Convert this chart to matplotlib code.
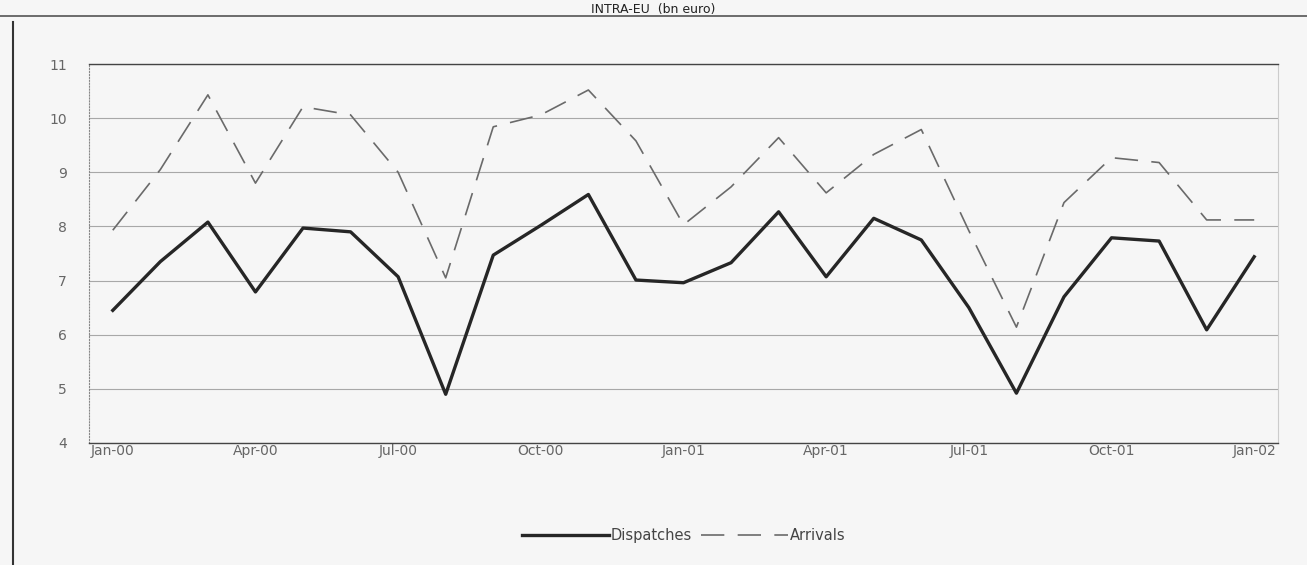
import numpy as np
import matplotlib.pyplot as plt

# monthly values, Jan-00 .. Jan-02 (bn euro)
months = ["Jan-00", "Feb-00", "Mar-00", "Apr-00", "May-00", "Jun-00", "Jul-00", "Aug-00",
          "Sep-00", "Oct-00", "Nov-00", "Dec-00", "Jan-01", "Feb-01", "Mar-01", "Apr-01",
          "May-01", "Jun-01", "Jul-01", "Aug-01", "Sep-01", "Oct-01", "Nov-01", "Dec-01",
          "Jan-02"]
dispatches = [6.45, 7.35, 8.08, 6.79, 7.97, 7.90, 7.07, 4.90, 7.47, 8.02, 8.59, 7.01,
              6.96, 7.33, 8.27, 7.07, 8.15, 7.75, 6.50, 4.92, 6.70, 7.79, 7.73, 6.09, 7.44]
arrivals = [7.93, 9.05, 10.43, 8.80, 10.21, 10.06, 9.00, 7.05, 9.84, 10.06, 10.52, 9.58,
            8.03, 8.73, 9.64, 8.62, 9.33, 9.79, 7.92, 6.14, 8.44, 9.27, 9.18, 8.12, 8.12]
tick_labels = ["Jan-00", "Apr-00", "Jul-00", "Oct-00", "Jan-01", "Apr-01", "Jul-01",
               "Oct-01", "Jan-02"]

bg = "#f6f6f6"
fig = plt.figure(figsize=(13.07, 5.65), dpi=100, facecolor=bg)
ax = fig.add_axes([89 / 1307, 1 - 443 / 565, (1278 - 89) / 1307, (443 - 64) / 565])
ax.set_facecolor(bg)

x = np.arange(len(months))
ax.plot(x, dispatches, color="#262626", lw=2.4, label="Dispatches")
ax.plot(x, arrivals, color="#6a6a6a", lw=1.2, dashes=(14, 8), label="Arrivals")

ax.set_xlim(-0.5, 24.5)
ax.set_ylim(4, 11)
ax.set_yticks(range(4, 12))
ax.set_xticks([months.index(m) for m in tick_labels])
ax.set_xticklabels(tick_labels)
ax.grid(axis="y", color="#a8a8a8", lw=0.8)
ax.set_axisbelow(True)
ax.tick_params(length=0, labelsize=10, colors="#666666")
ax.tick_params(axis="x", pad=1)
ax.tick_params(axis="y", pad=16)
for s in ["top", "bottom"]:
    ax.spines[s].set_color("#444444")
    ax.spines[s].set_linewidth(1.0)
ax.spines["left"].set_color("#888888")
ax.spines["left"].set_linestyle(":")
ax.spines["right"].set_color("#cccccc")

ax.legend(loc="upper center", bbox_to_anchor=(0.5, -0.19), ncol=2, frameon=False,
          fontsize=10.5, handlelength=6, handletextpad=0.1, columnspacing=0.6,
          labelcolor="#444444")

# chart border (frame of the scanned box)
fig.add_artist(plt.Line2D([13 / 1307, 13 / 1307], [0, 1 - 22 / 565], color="#333333", lw=1.5))
fig.add_artist(plt.Line2D([0, 1], [1 - 16 / 565, 1 - 16 / 565], color="#555555", lw=1.2))

fig.text(0.5, 1 - 16 / 565, "INTRA-EU  (bn euro)", ha="center", va="bottom",
         fontsize=9, color="#222222")

fig.savefig("out.png", dpi=100, facecolor=bg)
